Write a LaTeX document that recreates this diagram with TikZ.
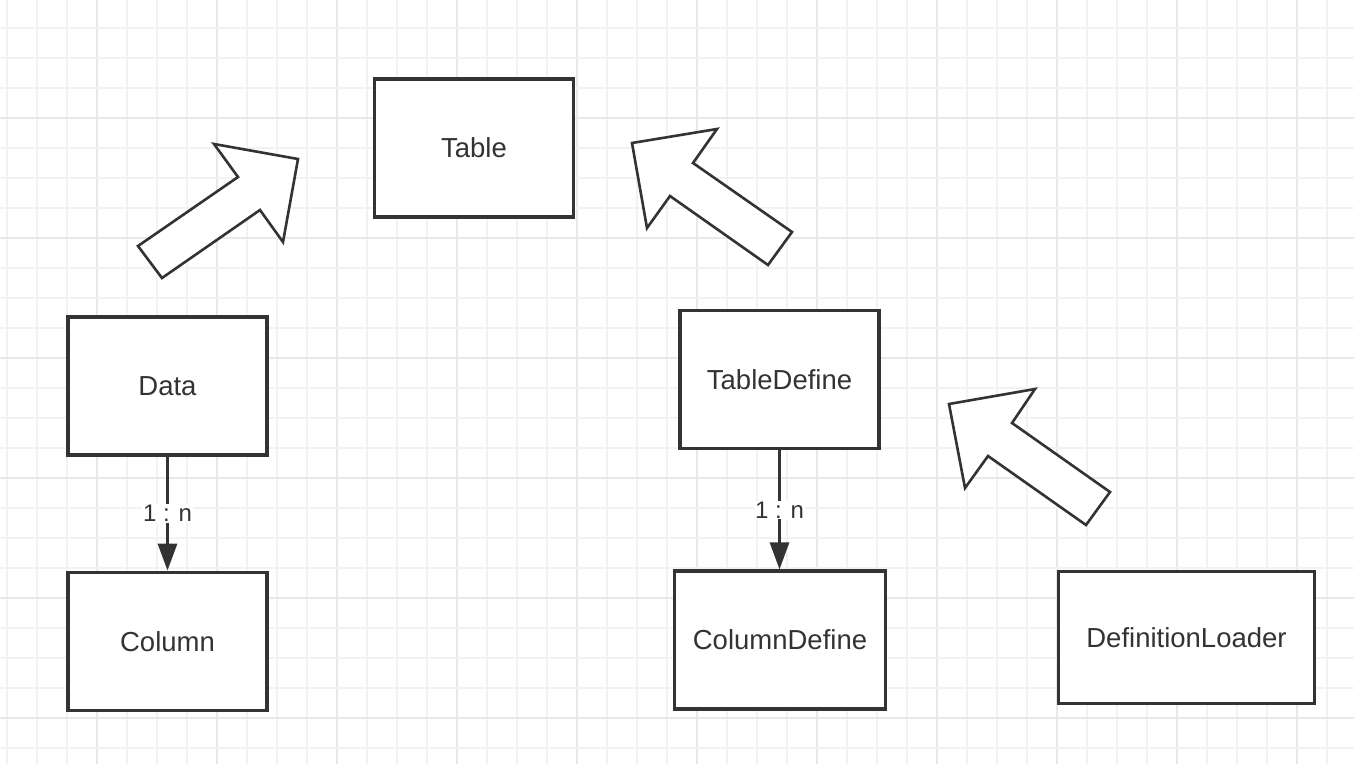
\documentclass[tikz,border=0pt]{standalone}
\usepackage{fontspec}
\setmainfont{Liberation Sans}
\usepackage{xcolor}
\definecolor{colorLine}{HTML}{333333}
\definecolor{colorGridMinor}{HTML}{F2F2F4}
\definecolor{colorGridMajor}{HTML}{E8E8EA}
\usepackage{tikz}
\usetikzlibrary{arrows.meta, positioning}
\tikzset{
  entity/.style={draw=colorLine, line width=3.2pt, fill=white, text=colorLine,
    minimum width=199pt, minimum height=138pt, inner sep=0pt,
    font=\fontsize{27.5}{32}\selectfont},
  inherit/.style={draw=colorLine, line width=2.6pt, fill=white, line join=miter},
  relation/.style={draw=colorLine, line width=3pt},
  multiplicity/.style={fill=white, text=colorLine, inner sep=1pt,
    font=\fontsize{24}{28}\selectfont}
}

\begin{document}
\begin{tikzpicture}[x=1pt, y=-1pt, >={Triangle[length=27pt, width=19pt]}]
\useasboundingbox (0,0) rectangle (1354,764);
\fill[white] (0,0) rectangle (1354,764);
% grid
\foreach \k in {0,...,45} {
  \pgfmathsetmacro{\gx}{7+30*\k}
  \pgfmathtruncatemacro{\gm}{mod(\k,4)}
  \ifnum\gm=3 \draw[colorGridMajor, line width=1.8pt] (\gx,0) -- (\gx,764);
  \else \draw[colorGridMinor, line width=1.6pt] (\gx,0) -- (\gx,764); \fi
}
\foreach \k in {0,...,25} {
  \pgfmathsetmacro{\gy}{28+30*\k}
  \pgfmathtruncatemacro{\gm}{mod(\k,4)}
  \ifnum\gm=3 \draw[colorGridMajor, line width=1.8pt] (0,\gy) -- (1354,\gy);
  \else \draw[colorGridMinor, line width=1.6pt] (0,\gy) -- (1354,\gy); \fi
}
% entities
\node[entity] (table) at (474,148) {Table};
\node[entity] (data) at (167.5,386) {Data};
\node[entity, below=114pt of data] (column) {Column};
\node[entity] (tabledef) at (779.5,379.5) {TableDefine};
\node[entity, minimum width=211pt] (columndef) at (780,640) {ColumnDefine};
\node[entity, minimum width=256pt, minimum height=132pt] (loader) at (1186.5,637.5) {DefinitionLoader};
% one-to-many relations
\draw[relation, ->] (data) -- node[multiplicity, pos=0.5]{1 : n} (column);
\draw[relation, ->] (tabledef.south) -- node[multiplicity, pos=0.5]{1 : n} (tabledef.south |- columndef.north);
% inheritance arrows
\draw[inherit] (138,246) -- (238,177) -- (214,144) -- (298,159) -- (283,242) -- (260,210) -- (162,278) -- cycle;
\draw[inherit] (632,143) -- (717,129) -- (693,163) -- (792,232) -- (768,265) -- (670,196) -- (647,228) -- cycle;
\draw[inherit] (949,404) -- (1035,389) -- (1012,423) -- (1110,492) -- (1086,525) -- (988,456) -- (965,488) -- cycle;
\end{tikzpicture}
\end{document}
